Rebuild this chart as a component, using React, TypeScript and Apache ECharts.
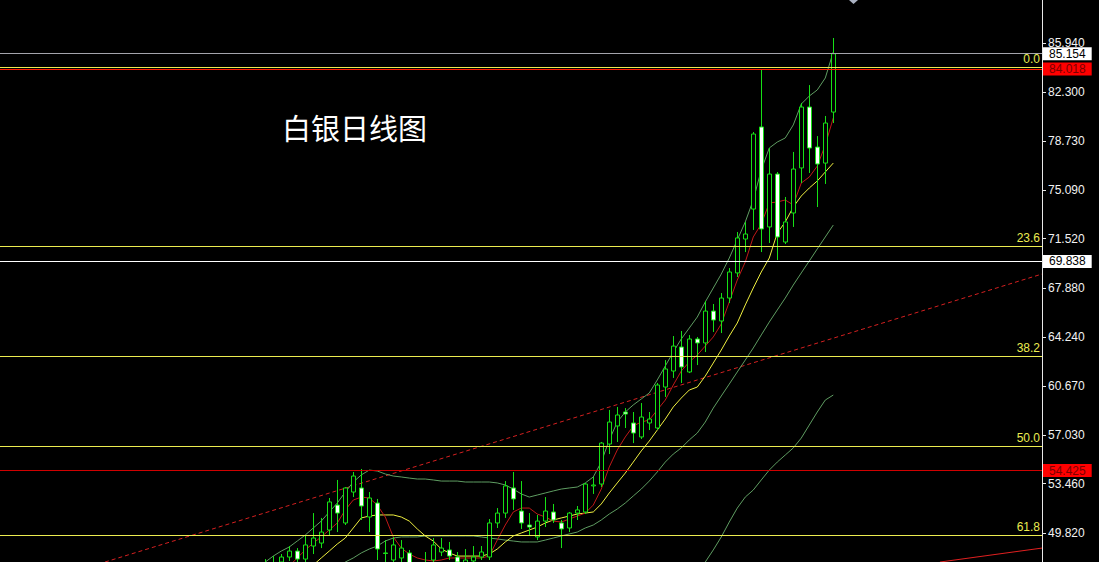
import React, { useEffect, useRef } from 'react';
import * as echarts from 'echarts';

// [open, close, low, high] for each daily candle, left to right
const candles: number[][] = [
  [47.09, 47.39, 46.72, 47.90],
  [47.24, 47.54, 46.95, 48.12],
  [47.68, 48.05, 47.46, 48.27],
  [48.05, 48.49, 47.76, 48.86],
  [48.49, 47.90, 47.68, 48.71],
  [47.90, 48.94, 47.68, 49.67],
  [48.86, 49.45, 48.27, 51.29],
  [49.08, 49.89, 48.71, 50.93],
  [50.04, 52.11, 49.67, 52.40],
  [51.88, 51.29, 49.89, 53.73],
  [50.56, 53.14, 50.41, 53.21],
  [52.84, 54.02, 52.47, 54.32],
  [53.14, 51.81, 50.78, 54.54],
  [51.00, 52.40, 49.89, 52.84],
  [52.03, 48.64, 47.83, 52.33],
  [48.35, 48.31, 47.68, 49.30],
  [47.83, 48.94, 47.46, 49.53],
  [47.98, 48.71, 47.61, 49.30],
  [48.35, 47.46, 47.09, 48.57],
  [47.09, 46.72, 46.36, 47.61],
  [47.09, 47.61, 46.72, 48.42],
  [47.83, 48.94, 47.46, 49.45],
  [48.42, 48.71, 48.12, 49.45],
  [48.57, 48.12, 47.83, 49.16],
  [48.05, 47.68, 47.39, 48.42],
  [47.61, 47.83, 47.39, 48.64],
  [47.76, 48.05, 47.54, 48.86],
  [48.05, 48.42, 47.83, 48.86],
  [48.05, 50.56, 47.83, 50.85],
  [50.56, 51.29, 50.19, 51.66],
  [51.29, 53.29, 50.93, 53.65],
  [53.14, 52.33, 51.52, 54.32],
  [51.44, 50.56, 50.12, 53.65],
  [50.41, 50.26, 49.67, 51.29],
  [49.53, 50.70, 49.30, 51.15],
  [50.70, 51.44, 50.26, 52.47],
  [51.37, 50.78, 50.56, 51.96],
  [50.56, 50.12, 48.71, 50.78],
  [50.19, 51.29, 49.89, 51.37],
  [51.29, 51.52, 50.78, 51.81],
  [51.37, 53.43, 51.22, 53.51],
  [53.29, 53.36, 52.70, 53.95],
  [53.43, 56.45, 53.21, 56.53],
  [56.38, 58.00, 55.64, 58.89],
  [57.71, 58.52, 56.53, 59.11],
  [58.74, 58.59, 57.56, 59.03],
  [57.93, 57.19, 56.45, 58.74],
  [56.90, 58.37, 56.75, 59.40],
  [57.93, 58.22, 57.41, 58.74],
  [57.56, 60.73, 57.41, 60.88],
  [60.58, 61.91, 59.85, 62.57],
  [61.76, 63.60, 61.25, 64.34],
  [63.53, 62.06, 60.88, 64.71],
  [61.69, 64.12, 61.61, 64.41],
  [64.12, 63.83, 62.20, 64.27],
  [63.83, 66.18, 63.16, 66.92],
  [66.18, 65.52, 64.64, 66.70],
  [65.45, 67.14, 64.56, 67.51],
  [67.14, 69.06, 66.77, 69.35],
  [68.99, 71.57, 68.69, 72.01],
  [71.49, 71.86, 70.53, 72.75],
  [73.70, 79.23, 72.16, 79.38],
  [79.75, 72.23, 70.53, 84.02],
  [72.38, 76.28, 71.20, 78.20],
  [76.28, 71.64, 69.94, 76.43],
  [71.27, 72.75, 71.12, 74.59],
  [73.41, 76.65, 72.38, 77.91],
  [76.73, 81.22, 75.62, 81.52],
  [81.22, 78.20, 76.36, 82.84],
  [78.27, 77.02, 73.85, 79.08],
  [77.09, 80.04, 75.55, 80.56],
  [80.85, 85.15, 80.04, 86.31],
];

const upperBand: (number | null)[] = [
  47.68, 48.12, 48.49, 48.79, 49.23, 49.67, 50.19, 50.70, 51.37, 52.03,
  52.84, 53.58, 54.10, 54.46, 54.39, 54.17, 54.02, 53.95, 53.87, 53.80,
  53.80, 53.73, 53.65, 53.65, 53.65, 53.58, 53.58, 53.58, 53.58, 53.51,
  53.36, 53.06, 52.70, 52.47, 52.62, 52.77, 52.92, 53.06, 53.14, 53.21,
  53.51, 53.95, 55.05, 56.68, 58.00, 58.74, 59.26, 59.70, 60.14, 61.10,
  62.13, 63.16, 64.12, 64.93, 65.74, 66.85, 67.88, 68.91, 70.09, 71.42,
  72.75, 74.37, 76.58, 78.20, 78.64, 78.94, 79.90, 81.44, 82.03, 82.48,
  83.36, 85.28,
];

const lowerBand: (number | null)[] = [
  null, null, null, null, null, 45.62, 45.99, 46.43, 46.80, 47.24,
  47.68, 47.98, 48.35, 48.64, 48.86, 49.23, 49.45, 49.53, 49.53, 49.53,
  49.60, 49.60, 49.60, 49.60, 49.60, 49.60, 49.60, 49.53, 49.45, 49.38,
  49.30, 49.23, 49.16, 49.16, 49.16, 49.30, 49.45, 49.60, 49.75, 49.89,
  50.19, 50.41, 50.78, 51.22, 51.59, 52.03, 52.55, 53.06, 53.65, 54.32,
  55.05, 55.64, 56.09, 56.68, 57.19, 58.00, 59.03, 59.92, 60.80, 61.69,
  62.57, 63.46, 64.42, 65.37, 66.26, 67.14, 68.10, 68.99, 69.87, 70.76,
  71.64, 72.52,
];

const yellowMA: (number | null)[] = [
  null, null, null, null, null, 46.95, 47.46, 47.98, 48.49, 49.01,
  49.45, 50.19, 50.93, 51.07, 51.15, 51.15, 51.15, 51.00, 50.70, 50.12,
  49.60, 49.23, 48.64, 48.35, 48.12, 48.12, 48.12, 48.12, 48.27, 48.64,
  49.16, 49.60, 49.82, 50.04, 50.26, 50.56, 50.78, 50.93, 51.07, 51.22,
  51.29, 51.37, 51.96, 52.77, 53.51, 54.24, 55.05, 55.87, 56.60, 57.41,
  58.22, 59.11, 59.77, 60.36, 60.58, 61.39, 62.35, 63.31, 64.34, 65.30,
  66.63, 67.88, 69.06, 70.09, 71.93, 72.75, 73.85, 74.66, 75.25, 75.77,
  76.43, 77.09,
];

const redMA: (number | null)[] = [
  null, null, null, 47.39, 47.98, 48.57, 49.08, 49.53, 50.04, 50.56,
  51.52, 52.25, 52.47, 52.40, 51.88, 51.00, 49.53, 48.71, 48.27, 47.98,
  47.83, 47.76, 47.83, 47.98, 47.98, 47.98, 47.98, 47.98, 48.12, 49.30,
  50.41, 51.37, 51.66, 51.66, 51.22, 51.00, 50.70, 50.63, 50.85, 51.07,
  51.29, 51.88, 53.06, 54.69, 55.94, 56.90, 57.71, 58.00, 58.15, 58.89,
  59.62, 60.73, 61.76, 62.43, 62.94, 63.60, 64.27, 65.23, 66.85, 68.47,
  69.80, 71.64, 72.60, 74.15, 74.22, 74.37, 74.00, 75.62, 76.06, 76.87,
  78.42, 80.41,
];

const longMA: (number | null)[] = [
  null, null, null, null, null, null, null, null, null, null,
  null, null, null, null, null, null, null, null, null, null,
  null, null, null, null, null, null, null, null, null, null,
  null, null, null, null, null, null, null, null, null, null,
  null, null, null, null, null, null, null, null, null, null,
  null, null, null, null, 46.72, 47.68, 48.57, 49.53, 50.63, 51.66,
  52.47, 52.99, 53.73, 54.46, 55.05, 55.57, 56.09, 56.82, 57.78, 58.74,
  59.62, 59.99,
];

const yTicks = [85.94, 82.3, 78.73, 75.09, 71.52, 67.88, 64.24, 60.67, 57.03, 53.46, 49.82];

const priceLevels = [85.154, 84.018, 69.838, 54.425];
const fibLabels = ['0.0', '23.6', '38.2', '50.0', '61.8'];
const fibValues = [84.17, 70.98, 62.87, 56.23, 49.67];

// trend lines: [candle index, price]
const trendDashed = [[-20.04, 47.68], [97.09, 68.91]];
const trendSolid = [[84.33, 47.68], [97.09, 48.71]];

const chartTitle = '白银日线图';

const toPoints = (arr: (number | null)[]) =>
  arr.map((v, i) => [i, v]).filter((p) => p[1] != null);

export default function App() {
  const ref = useRef<HTMLDivElement>(null);

  useEffect(() => {
    document.body.style.margin = '0';
    document.body.style.background = '#000';
    const chart = echarts.init(ref.current as HTMLDivElement, null, {
      renderer: 'svg',
      width: 1099,
      height: 562,
    });

    const levelStyles = [
      { line: '#a4a4ac', bg: '#ffffff', text: '#000000' },
      { line: '#ff1a00', bg: '#ff0000', text: '#7a0000' },
      { line: '#ffffff', bg: '#ffffff', text: '#000000' },
      { line: '#d00000', bg: '#ff0000', text: '#7a0000' },
    ];
    const fibColor = '#ecec50';
    const bandColor = '#5f9d62';

    const markData: any[] = [];
    fibValues.forEach((v, i) => {
      markData.push({
        yAxis: v,
        lineStyle: { color: fibColor, width: 1, type: 'solid' },
        label: {
          show: true,
          position: 'insideEndTop',
          formatter: fibLabels[i],
          color: fibColor,
          fontSize: 12,
          fontFamily: 'Liberation Sans',
          distance: 2,
        },
      });
    });
    priceLevels.forEach((v, i) => {
      const s = levelStyles[i];
      markData.push({
        yAxis: v,
        lineStyle: { color: s.line, width: 1, type: 'solid' },
        label: {
          show: true,
          position: 'end',
          formatter: v.toFixed(3),
          color: s.text,
          backgroundColor: s.bg,
          padding: [1, 6, 0, 6],
          fontSize: 12,
          lineHeight: 12,
          fontFamily: 'Liberation Sans',
          distance: 1,
        },
      });
    });

    const lineSeries = (data: any[], color: string, extra: any = {}) => ({
      type: 'line',
      data,
      symbol: 'none',
      showSymbol: false,
      silent: true,
      lineStyle: { color, width: 1, ...extra },
      z: 3,
    });

    const option: any = {
      backgroundColor: '#000000',
      animation: false,
      grid: { left: 0, right: 57, top: 0, bottom: 0, containLabel: false, outerBoundsMode: 'none' },
      xAxis: {
        type: 'value',
        min: -33.16,
        max: 97.09,
        show: false,
        axisLine: { show: false, onZero: false },
        splitLine: { show: false },
      },
      yAxis: {
        type: 'value',
        position: 'right',
        min: 47.683,
        max: 89.11,
        scale: true,
        axisLine: { show: true, onZero: false, lineStyle: { color: '#e8e8e8', width: 1 } },
        axisTick: {
          show: true,
          length: 4,
          inside: false,
          lineStyle: { color: '#e8e8e8' },
          customValues: yTicks,
        },
        axisLabel: {
          show: true,
          customValues: yTicks,
          formatter: (v: number) => v.toFixed(3),
          color: '#f2f2f2',
          fontSize: 12,
          fontFamily: 'Liberation Sans',
          margin: 6,
        },
        splitLine: { show: false },
      },
      graphic: [
        {
          type: 'text',
          x: 282,
          y: 127,
          silent: true,
          style: {
            text: chartTitle,
            fill: '#ffffff',
            font: 'normal 29px "Noto Sans CJK SC"',
            align: 'left',
            verticalAlign: 'middle',
            textAlign: 'left',
            textVerticalAlign: 'middle',
          },
        },
        {
          type: 'polygon',
          silent: true,
          shape: { points: [[849, 0], [858, 0], [853.5, 4]] },
          style: { fill: '#aab2c2' },
        },
      ],
      series: [
        lineSeries(trendDashed, '#d42020', { type: [4, 3] }),
        lineSeries(trendSolid, '#e02020'),
        lineSeries(toPoints(upperBand), bandColor),
        lineSeries(toPoints(lowerBand), bandColor),
        lineSeries(toPoints(longMA), bandColor),
        lineSeries(toPoints(yellowMA), '#f0f040'),
        lineSeries(toPoints(redMA), '#c01818'),
        {
          type: 'candlestick',
          data: candles.map((c, i) => [i, c[0], c[1], c[2], c[3]]),
          barWidth: 4,
          silent: true,
          z: 4,
          itemStyle: {
            color: '#000000',
            color0: '#ffffff',
            borderColor: '#16e016',
            borderColor0: '#16e016',
            borderColorDoji: '#16e016',
            borderWidth: 1,
          },
        },
        {
          type: 'line',
          data: [],
          silent: true,
          z: 6,
          markLine: {
            silent: true,
            symbol: ['none', 'none'],
            animation: false,
            data: markData,
          },
        },
      ],
    };

    chart.setOption(option);
    return () => chart.dispose();
  }, []);

  return (
    <div
      ref={ref}
      style={{ position: 'fixed', left: 0, top: 0, width: 1099, height: 562, background: '#000' }}
    />
  );
}
